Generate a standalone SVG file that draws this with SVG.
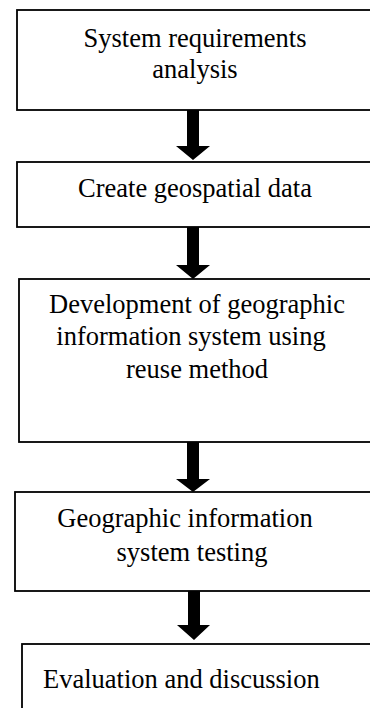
<svg xmlns="http://www.w3.org/2000/svg" width="370" height="708" viewBox="0 0 370 708">
<style>
.box{fill:#fff;stroke:#000;stroke-width:1.8}
.t{font-family:"Liberation Serif","Times New Roman",serif;font-size:26.5px;fill:#000}
.c{text-anchor:middle}
.arr{fill:#000;stroke:none}
</style>
<rect width="370" height="708" fill="#fff"/>
<g id="connectors">
<polygon class="arr" points="187,110 199,110 199,146 210,146 193,160 176,146 187,146"/>
<polygon class="arr" points="187,227 199,227 199,265 210,265 193,279 176,265 187,265"/>
<polygon class="arr" points="187,442 199,442 199,479 210,479 193,492 176,479 187,479"/>
<polygon class="arr" points="188,591 200,591 200,625 210,625 194,640 177,625 188,625"/>
</g>
<g id="node1">
<rect class="box" x="17" y="10" width="380" height="100"/>
<text class="t c" x="195" y="47">System requirements</text>
<text class="t c" x="195" y="78">analysis</text>
</g>
<g id="node2">
<rect class="box" x="17" y="162" width="380" height="65"/>
<text class="t c" x="195" y="197">Create geospatial data</text>
</g>
<g id="node3">
<rect class="box" x="19" y="279" width="380" height="163"/>
<text class="t c" x="197" y="313">Development of geographic</text>
<text class="t c" x="191" y="345">information system using</text>
<text class="t c" x="197" y="378">reuse method</text>
</g>
<g id="node4">
<rect class="box" x="15" y="492" width="380" height="99"/>
<text class="t c" x="185" y="527">Geographic information</text>
<text class="t c" x="192" y="561">system testing</text>
</g>
<g id="node5">
<rect class="box" x="22" y="644" width="380" height="80"/>
<text class="t" x="43" y="688">Evaluation and discussion</text>
</g>
</svg>
